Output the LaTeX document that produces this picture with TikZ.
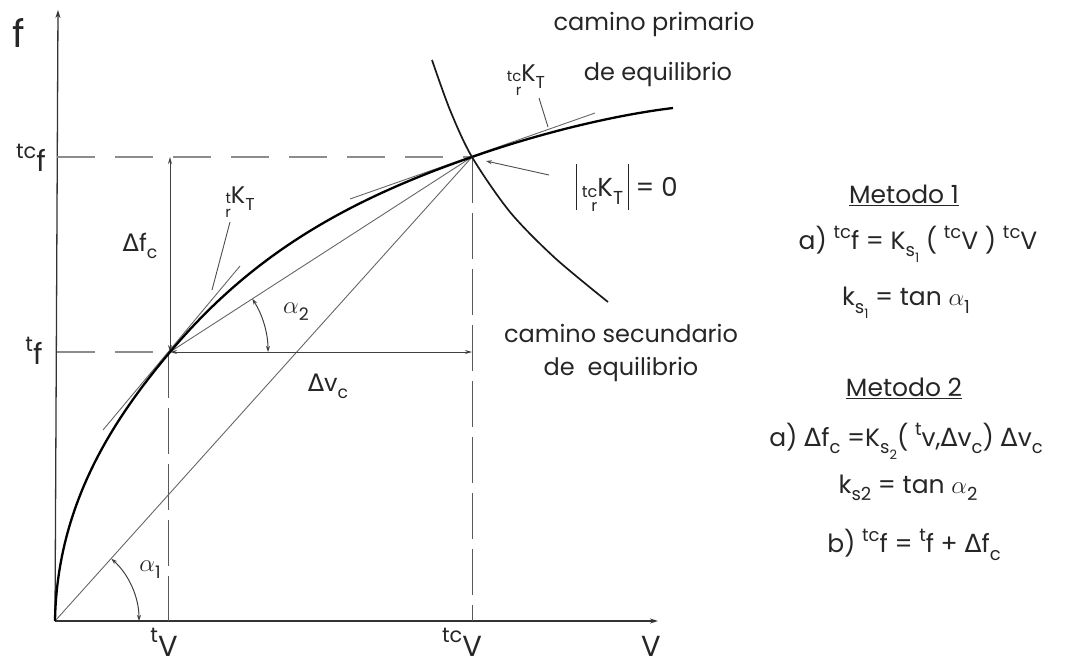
\documentclass[tikz,border=0pt]{standalone}
\usepackage{fontspec}
\setmainfont{Poppins}
\newfontfamily\gk{DejaVu Sans}
\usetikzlibrary{arrows.meta}
\newcommand\lup[1]{\raisebox{0.45em}{\scalebox{0.72}{#1}}}
\newcommand\ldn[1]{\raisebox{-0.3em}{\scalebox{0.72}{#1}}}
\newcommand\lstk[2]{\raisebox{-0.3em}{\scalebox{0.62}{\begin{tabular}{@{}r@{}}#1\\[-0.2em]#2\end{tabular}}}}
\newcommand\Dl{{\gk Δ}}
\newcommand\al{$\alpha$}
\begin{document}
\begin{tikzpicture}[x=1pt,y=-1pt,
  font=\fontsize{24}{28}\selectfont,
  axisln/.style={line width=1.3pt, draw=black!80, -{Stealth[length=8pt,width=5pt]}},
  hguide/.style={line width=1.1pt, draw=black!45, dash pattern=on 38pt off 20pt},
  vguide/.style={line width=1pt, draw=black!65, dash pattern=on 46pt off 10pt},
  thinln/.style={line width=0.9pt, draw=black!60},
  mainpath/.style={line width=2.3pt, draw=black},
  secpath/.style={line width=1.7pt, draw=black!90},
  dimln/.style={line width=1pt, draw=black!75, {Stealth[length=7pt,width=4pt]}-{Stealth[length=7pt,width=4pt]}},
  anglearc/.style={line width=1pt, draw=black!75, {Stealth[length=6pt,width=4pt]}-{Stealth[length=6pt,width=4pt]}},
  leader/.style={line width=0.9pt, draw=black!70},
  lbl/.style={inner sep=0pt, text=black!85},
  rt/.style={lbl, font=\fontsize{25}{28}\selectfont},
  big/.style={lbl, anchor=base, font=\fontsize{29}{30}\selectfont}]
\useasboundingbox (0,0) rectangle (1075,666);

% key points
\coordinate (O) at (55,621);
\coordinate (Ytop) at (58,10);
\coordinate (Xend) at (658,621);
\coordinate (A) at (170,352);
\coordinate (B) at (472,157);
\coordinate (Ay) at (57,352);
\coordinate (By) at (57,157);
\coordinate (Ax) at (168,621);
\coordinate (Bx) at (472,621);
\coordinate (Bh) at (472,352);
\coordinate (Atop) at (170,157);
\coordinate (End) at (673,108);

% axes
\draw[axisln] (O) -- (Ytop);
\draw[axisln] (O) -- (Xend);

% guides
\draw[hguide] (By) -- (B);
\draw[hguide] (Ay) -- (A);
\draw[vguide] (B) -- (Bx);
\draw[vguide] (168,352) -- (Ax);

% secants and tangents
\draw[thinln] (O) -- (B);
\draw[thinln] (A) -- (B);
\draw[thinln] ([shift={(-67,78)}]A) -- ([shift={(70,-86)}]A);
\draw[thinln] ([shift={(-122,42)}]B) -- ([shift={(123,-44)}]B);

% dimension arrows
\draw[dimln] (A) -- (Atop);
\draw[dimln] (A) -- (Bh);

% equilibrium paths
\draw[mainpath] (O) .. controls (57,500) and (118,414) .. (A)
  .. controls (250,257) and (342,202) .. (B)
  .. controls (540,133) and (615,115) .. (End);
\draw[secpath] plot[smooth] coordinates {(432,60) (450,110) (472,157) (510,212) (555,258) (608,302)};

% angle arcs
\draw[anglearc] ([shift={(84,0)}]O) arc[start angle=0, end angle=-47.9, radius=84];
\draw[anglearc] ([shift={(98,0)}]A) arc[start angle=0, end angle=-32.9, radius=98];

% axis labels
\node[lbl, font=\fontsize{38}{38}\selectfont] (lf) at (19,33) {f};
\node[big] (lV) at (651,656) {V};
\node[big] (ltV) at (164,656) {\lup{t}V};
\node[big] (ltcV) at (462,656) {\lup{tc}V};
\node[lbl, font=\fontsize{29}{30}\selectfont] (ltcf) at (31,158) {\lup{tc}f};
\node[lbl, font=\fontsize{29}{30}\selectfont] (ltf) at (34,351) {\lup{t}f};

% plot labels
\node[lbl] (ldf) at (140,246) {\Dl f\ldn{c}};
\node[lbl] (ldv) at (328,386) {\Dl v\ldn{c}};
\node[lbl] (la2) at (296,312) {\al\ldn{2}};
\node[lbl] (la1) at (150,570) {\al\ldn{1}};
\node[lbl] (lKt) at (240,205) {\lstk{t}{r}K\ldn{T}};
\coordinate (lKtA) at (230,222);
\coordinate (lKtB) at (212,290);
\draw[leader] (lKtA) -- (lKtB);
\node[lbl] (lKtc) at (526,83) {\lstk{tc}{r}K\ldn{T}};
\coordinate (lKtcA) at (539,98);
\coordinate (lKtcB) at (548,127);
\draw[leader] (lKtcA) -- (lKtcB);
\node[lbl, font=\fontsize{26}{28}\selectfont] (ldet) at (627,190) {\rule[-13pt]{1.2pt}{46pt}\,\lstk{tc}{r}K\ldn{T}\,\rule[-13pt]{1.2pt}{46pt} = 0};
\coordinate (ldetA) at (549,175);
\draw[leader, -{Stealth[length=6pt,width=4pt]}] (ldetA) -- (486,161);

\node[lbl] (lprim) at (654,24) {camino primario};
\node[lbl] (lprim2) at (658,74) {de equilibrio};
\node[lbl] (lsec) at (621,333) {camino secundario};
\node[lbl] (lsec2) at (621,369) {de\ \ equilibrio};

% methods
\node[rt] (m1) at (904,195) {\underline{Metodo 1}};
\node[rt] (m1a) at (918,244) {a) \lup{tc}f = K\ldn{s\ldn{1}} ( \lup{tc}V ) \lup{tc}V};
\node[rt] (m1b) at (906,303) {k\ldn{s\ldn{1}} = tan \al\ldn{1}};
\node[rt] (m2) at (904,388) {\underline{Metodo 2}};
\node[rt] (m2a) at (906,441) {a) \Dl f\ldn{c} =K\ldn{s\ldn{2}}( \lup{t}v,\Dl v\ldn{c}) \Dl v\ldn{c}};
\node[rt] (m2b) at (908,488) {k\ldn{s2} = tan \al\ldn{2}};
\node[rt] (m2c) at (914,545) {b) \lup{tc}f = \lup{t}f + \Dl f\ldn{c}};
\end{tikzpicture}
\end{document}
